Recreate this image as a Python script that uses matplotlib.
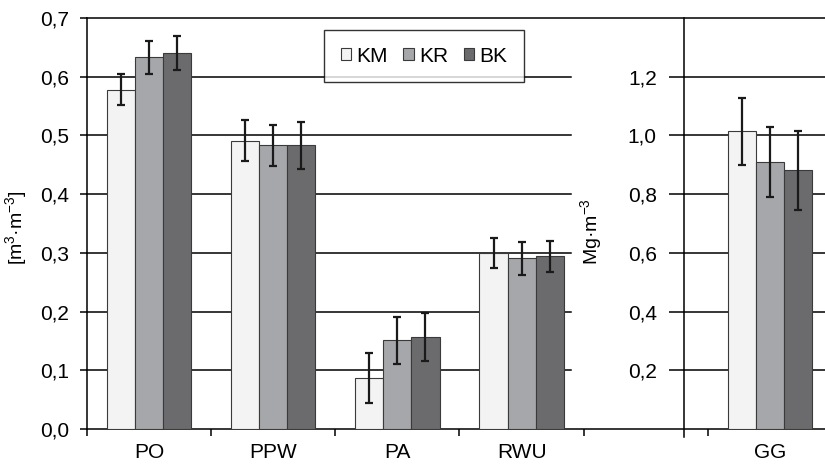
import numpy as np
import matplotlib.pyplot as plt
from matplotlib.patches import Patch

plt.rcParams['font.family'] = ['Liberation Sans', 'DejaVu Sans']
plt.rcParams['mathtext.fontset'] = 'custom'
plt.rcParams['mathtext.rm'] = 'Liberation Sans'
plt.rcParams['mathtext.it'] = 'Liberation Sans'

# data
categories = ['PO', 'PPW', 'PA', 'RWU', '', 'GG']
series = ['KM', 'KR', 'BK']
colors = ['#f3f3f3', '#a6a7aa', '#6b6b6d']

# left axis groups (m3/m3)
km = [0.578, 0.491, 0.087, 0.300]
kr = [0.633, 0.483, 0.151, 0.291]
bk = [0.640, 0.483, 0.156, 0.294]
km_err = [0.027, 0.035, 0.043, 0.026]
kr_err = [0.028, 0.035, 0.040, 0.028]
bk_err = [0.029, 0.040, 0.041, 0.027]

# right axis group GG (Mg/m3)
gg = [1.014, 0.909, 0.881]
gg_err = [0.115, 0.120, 0.135]

left_ticks = [0.0, 0.1, 0.2, 0.3, 0.4, 0.5, 0.6, 0.7]
right_ticks = [0.2, 0.4, 0.6, 0.8, 1.0, 1.2]

W, H = 825, 465
fig = plt.figure(figsize=(W / 100, H / 100), dpi=100)
ax = fig.add_axes([87 / W, 1 - 429 / H, (832 - 87) / W, (429 - 18) / H])
ax2 = ax.twinx()

bw = 0.226
offs = [-bw, 0, bw]
x = np.arange(4)
err_kw = dict(ecolor='#1a1a1a', elinewidth=1.6, capsize=2.6, capthick=1.6)
for vals, errs, off, c in zip([km, kr, bk], [km_err, kr_err, bk_err], offs, colors):
    ax.bar(x + off, vals, bw, color=c, edgecolor='#3a3a3a', linewidth=0.8,
           yerr=errs, error_kw=err_kw, zorder=3)
for v, e, off, c in zip(gg, gg_err, offs, colors):
    ax2.bar(5 + off, v, bw, color=c, edgecolor='#3a3a3a', linewidth=0.8,
            yerr=e, error_kw=err_kw, zorder=3)

ax.set_xlim(-0.5, 5.5)
ax.set_ylim(0, 0.7)
ax2.set_ylim(0, 1.4)

# secondary axis spine in the empty slot
x_sec = -0.5 + (683 - 87) / 124
x_gap = -0.5 + (570 - 87) / 124

# gridlines
for t in left_ticks[1:-1]:
    ax.plot([-0.5, x_gap], [t, t], color='black', lw=1.1, zorder=1, clip_on=False)
    ax.plot([x_sec, 5.5], [t, t], color='black', lw=1.1, zorder=1, clip_on=False)

for s in ['right', 'bottom', 'left', 'top']:
    ax.spines[s].set_linewidth(1.1)
ax.spines['right'].set_visible(False)
ax2.spines['right'].set_visible(False)
ax2.spines['top'].set_visible(False)
ax2.spines['bottom'].set_visible(False)
ax2.spines['left'].set_position(('data', x_sec))
ax2.spines['left'].set_bounds(-0.028, 1.4)
ax2.spines['left'].set_linewidth(1.1)
ax2.yaxis.set_ticks_position('left')
ax2.yaxis.set_label_position('left')

fmt = lambda v: f'{v:.1f}'.replace('.', ',')
ax.set_yticks(left_ticks)
ax.set_yticklabels([fmt(v) for v in left_ticks])
ax2.set_yticks(right_ticks)
ax2.set_yticklabels([fmt(v) for v in right_ticks])
ax.tick_params(axis='y', length=5, width=1.1, labelsize=15, pad=8)
ax2.tick_params(axis='y', length=10.5, width=1.1, labelsize=15, pad=9, left=True, right=False,
                labelleft=True, labelright=False)

ax.set_xticks(np.arange(6))
ax.set_xticklabels(categories)
ax.set_xticks(np.arange(-0.5, 5.6, 1), minor=True)
ax.tick_params(axis='x', which='major', length=0, labelsize=15, pad=10)
ax.tick_params(axis='x', which='minor', length=5, width=1.1)

ax.set_ylabel('[m$^{3}$·m$^{-3}$]', fontsize=14)
ax.yaxis.set_label_coords((29 - 87) / (832 - 87), 0.49)
ax2.set_ylabel('Mg·m$^{-3}$', fontsize=14)
ax2.yaxis.set_label_coords((604 - 87) / (832 - 87), 0.48)

handles = [Patch(facecolor=c, edgecolor='#3a3a3a', linewidth=0.8) for c in colors]
leg = ax.legend(handles, series, ncol=3, loc='upper left',
                bbox_to_anchor=(324 / W, 1 - 30 / H), bbox_transform=fig.transFigure,
                fontsize=15, frameon=True, fancybox=False, handlelength=0.5, handleheight=0.5,
                handletextpad=0.25, columnspacing=0.75, borderpad=0.8, borderaxespad=0)
leg.get_frame().set_edgecolor('black')
leg.get_frame().set_linewidth(1.0)
leg.set_zorder(10)

fig.savefig('out.png', dpi=100)
